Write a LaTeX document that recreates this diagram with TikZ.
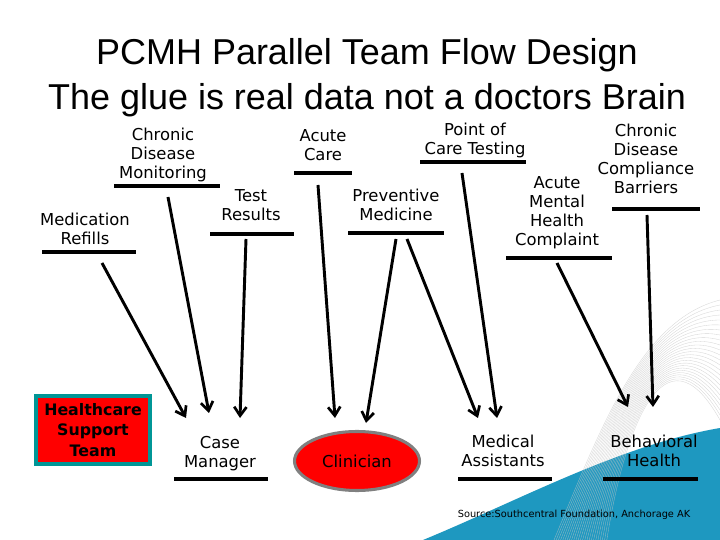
\documentclass[tikz,border=0pt]{standalone}
\usepackage{fontspec}
\setmainfont{DejaVu Sans}
\newfontfamily\titlefont{Liberation Sans}
\usetikzlibrary{arrows.meta,shapes.geometric}
\definecolor{boxteal}{RGB}{0,150,150}
\definecolor{waveteal}{RGB}{30,152,192}
\begin{document}
\begin{tikzpicture}[x=0.03cm,y=-0.03cm,every node/.style={font=\fontsize{14}{16.2}\selectfont,inner sep=0pt},
  lbl/.style={align=center},
  bar/.style={fill=black,minimum height=4*0.03cm,minimum width=#1*0.03cm},
  flow/.style={line width=2.5pt,-{Straight Barb[length=7.5pt,width=10.5pt,line width=2.3pt]}},
  team/.style={draw=boxteal,line width=3.2pt,fill=red,minimum width=114*0.03cm,minimum height=68*0.03cm,align=center,font=\bfseries\fontsize{13.5}{17.6}\selectfont},
  doc/.style={ellipse,draw=gray,line width=2.6pt,fill=red,minimum width=125*0.03cm,minimum height=59*0.03cm}]
\useasboundingbox (0,0) rectangle (720,540); \fill[white] (0,0) rectangle (720,540);
% background wave
\fill[waveteal] (423,540) .. controls (520,500) and (620,445) .. (720,428) -- (720,540) -- cycle;
\foreach \i in {0,...,24} \draw[gray!45,line width=0.3pt,opacity=0.7] (554+2.2*\i,540) .. controls (600+\i,430) and (640+\i,320) .. (720,300+5*\i);
\node[font=\titlefont\fontsize{30.7}{38.4}\selectfont,align=center] (title) at (367,78) {PCMH Parallel Team Flow Design\\The glue is real data not a doctors Brain};
% inputs
\node[lbl] (mref) at (85,229) {Medication\\Refills}; \node[bar=94] (mrefB) at (89,252) {};
\node[lbl] (cdm) at (163,155) {Chronic\\Disease\\Monitoring}; \node[bar=106] (cdmB) at (167,186) {};
\node[lbl] (tres) at (251,205) {Test\\Results}; \node[bar=84] (tresB) at (252,234) {};
\node[lbl] (acare) at (323,145) {Acute\\Care}; \node[bar=58] (acareB) at (323,173) {};
\node[lbl] (pmed) at (396,205) {Preventive\\Medicine}; \node[bar=96] (pmedB) at (396,233) {};
\node[lbl] (poct) at (475,140) {Point of\\Care Testing}; \node[bar=106] (poctB) at (473,162) {};
\node[lbl] (amh) at (557,213) {Acute\\Mental\\Health\\Complaint}; \node[bar=106] (amhB) at (559,258) {};
\node[lbl] (cdcb) at (646,159) {Chronic\\Disease\\Compliance\\Barriers}; \node[bar=88] (cdcbB) at (656,209) {};
% team
\node[team] (hst) at (93,430) {Healthcare\\Support\\Team};
\node[lbl] (cman) at (220,454) {Case\\Manager}; \node[bar=94] (cmanB) at (221,479) {};
\node[doc] (clin) at (357,461) {Clinician};
\node[lbl] (mass) at (503,451) {Medical\\Assistants}; \node[bar=94] (massB) at (505,479) {};
\node[lbl] (bhealth) at (654,451) {Behavioral\\Health}; \node[bar=95] (bhealthB) at (650,479) {};
\draw[flow] ([shift={(13,11)}]mrefB.center) -- ([shift={(-34,-36)}]cman.center); \draw[flow] ([shift={(1,11)}]cdmB.center) -- ([shift={(-11,-41)}]cman.center);
\draw[flow] ([shift={(-6,5)}]tresB.center) -- ([shift={(20,-36)}]cman.center);
\draw[flow] ([shift={(-5,12)}]acareB.center) -- ([shift={(-22,-43)}]clin.center); \draw[flow] ([shift={(0,6)}]pmedB.center) -- ([shift={(9,-38)}]clin.center);
\draw[flow] ([shift={(11,6)}]pmedB.center) -- ([shift={(-25,-33)}]mass.center); \draw[flow] ([shift={(-11,11)}]poctB.center) -- ([shift={(-6,-33)}]mass.center);
\draw[flow] ([shift={(-2,5)}]amhB.center) -- ([shift={(-26,-44)}]bhealth.center); \draw[flow] ([shift={(-9,6)}]cdcbB.center) -- ([shift={(-1,-44)}]bhealth.center);
\node[font=\fontsize{8.35}{10}\selectfont] (src) at (574,515) {Source:Southcentral Foundation, Anchorage AK};
\end{tikzpicture}
\end{document}
